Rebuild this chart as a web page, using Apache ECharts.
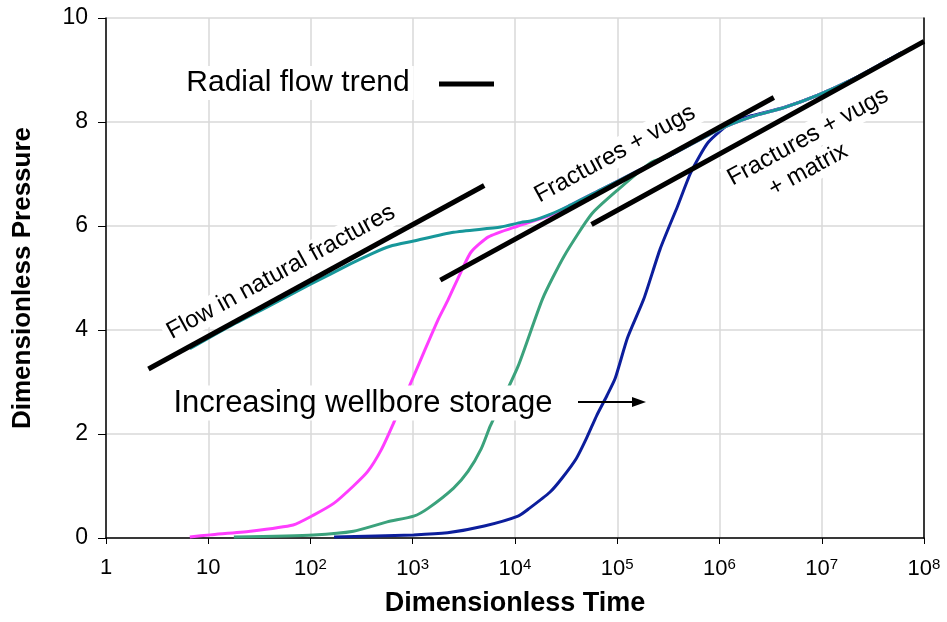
<!DOCTYPE html>
<html>
<head>
<meta charset="utf-8">
<script src="https://cdn.jsdelivr.net/npm/echarts@6/dist/echarts.min.js"></script>
<style>
html, body { margin: 0; padding: 0; background: #fff; }
#chart { width: 947px; height: 622px; }
</style>
</head>
<body>
<div id="chart"></div>
<script>
// dimensionless time / pressure
var tealTime = [6.6, 15.8, 40, 100, 251, 400, 600, 1020, 2510, 7240, 11500, 14500, 22400, 33100, 69200, 148000, 316000, 977000, 2040000, 4370000, 9300000, 19500000, 41700000, 60000000];
var tealPressure = [3.64, 4.06, 4.47, 4.88, 5.28, 5.47, 5.61, 5.71, 5.88, 5.98, 6.07, 6.10, 6.23, 6.38, 6.70, 7.03, 7.34, 7.85, 8.10, 8.28, 8.52, 8.81, 9.16, 9.33];

var magentaTime = [6.6, 10.5, 25.7, 67.6, 107, 170, 263, 363, 490, 646, 1020, 1290, 1780, 2190, 2950, 3720, 5500, 10700, 22400, 33100, 69200, 148000, 316000, 977000, 2040000, 4370000, 9300000, 19500000, 41700000, 60000000];
var magentaPressure = [0.02, 0.06, 0.13, 0.25, 0.44, 0.67, 1.00, 1.28, 1.69, 2.20, 3.11, 3.58, 4.21, 4.56, 5.11, 5.50, 5.79, 6.00, 6.21, 6.38, 6.70, 7.03, 7.34, 7.85, 8.10, 8.28, 8.52, 8.81, 9.16, 9.33];

var greenTime = [17.8, 107, 263, 562, 1020, 1410, 2510, 3470, 4680, 5750, 10700, 18600, 30200, 56200, 102000, 214000, 316000, 977000, 2040000, 4370000, 9300000, 19500000, 41700000, 60000000];
var greenPressure = [0.02, 0.06, 0.13, 0.31, 0.42, 0.57, 0.96, 1.28, 1.72, 2.16, 3.30, 4.60, 5.42, 6.23, 6.70, 7.22, 7.34, 7.85, 8.10, 8.28, 8.52, 8.81, 9.16, 9.33];

var blueTime = [170, 1020, 2190, 5010, 10700, 13800, 21900, 28800, 39800, 50100, 63100, 79400, 95500, 126000, 182000, 263000, 389000, 525000, 776000, 1320000, 2040000, 4270000, 9300000, 19500000, 41700000, 60000000];
var bluePressure = [0.02, 0.06, 0.10, 0.23, 0.42, 0.57, 0.88, 1.15, 1.53, 1.92, 2.36, 2.74, 3.07, 3.85, 4.60, 5.56, 6.38, 7.03, 7.61, 8.00, 8.12, 8.28, 8.52, 8.81, 9.16, 9.33];

// radial flow trend lines (end points)
var trendFracTime = [2.6, 5000];
var trendFracPressure = [3.25, 6.78];
var trendVugTime = [1860, 3400000];
var trendVugPressure = [4.96, 8.47];
var trendMatrixTime = [56000, 100000000];
var trendMatrixPressure = [6.03, 9.55];

var xTickLabels = ['1', '10', '10{s|2}', '10{s|3}', '10{s|4}', '10{s|5}', '10{s|6}', '10{s|7}', '10{s|8}'];

function zip(t, p) {
	var out = [];
	for (var i = 0; i < t.length; i++) {
		out.push([t[i], p[i]]);
	}
	return out;
}

var FONT = 'Liberation Sans, Arial, sans-serif';
var ANGLE = 0.5; // text along the trend lines

function curve(name, color, t, p) {
	return {
		name: name, type: 'line', showSymbol: false, symbol: 'none',
		smooth: 0.2,
		data: zip(t, p),
		lineStyle: { color: color, width: 3 },
		z: 3
	};
}
function trend(t, p) {
	return {
		type: 'line', showSymbol: false, symbol: 'none',
		data: zip(t, p),
		lineStyle: { color: '#000', width: 5 },
		z: 4
	};
}
function note(x, y, text, size, rot) {
	return {
		type: 'text', x: x, y: y, rotation: rot || 0, z: 10,
		style: {
			text: text, font: size + 'px ' + FONT, fill: '#000',
			align: 'center', verticalAlign: 'middle',
			backgroundColor: '#fff', padding: [2, 4]
		}
	};
}

var chart = echarts.init(document.getElementById('chart'));
var option = {
	animation: false,
	backgroundColor: '#fff',
	grid: { left: 106, right: 23, top: 18, bottom: 82 },
	xAxis: {
		type: 'log', logBase: 10, min: 1, max: 100000000,
		name: 'Dimensionless Time', nameLocation: 'middle', nameGap: 52,
		nameTextStyle: { fontFamily: FONT, fontSize: 27, fontWeight: 'bold', color: '#000' },
		axisLine: { lineStyle: { color: '#000', width: 1.5 } },
		axisTick: { show: true, length: 6, lineStyle: { color: '#000' } },
		minorTick: { show: false },
		axisLabel: {
			margin: 19, color: '#000', fontFamily: FONT, fontSize: 22,
			formatter: function (v) {
				var k = Math.round(Math.log(v) / Math.LN10);
				return xTickLabels[k];
			},
			rich: { s: { fontSize: 15, fontFamily: FONT, color: '#000', verticalAlign: 'top', padding: [0, 0, 9, 0] } }
		},
		splitLine: { show: true, lineStyle: { color: '#d9d9d9', width: 1.5 } }
	},
	yAxis: [{
		type: 'value', min: 0, max: 10, interval: 2,
		name: 'Dimensionless Pressure', nameLocation: 'middle', nameGap: 70,
		nameTextStyle: { fontFamily: FONT, fontSize: 26, fontWeight: 'bold', color: '#000' },
		axisLine: { show: true, lineStyle: { color: '#000', width: 1.5 } },
		axisTick: { show: true, length: 8, lineStyle: { color: '#000' } },
		axisLabel: { margin: 18, color: '#000', fontFamily: FONT, fontSize: 23 },
		splitLine: { show: true, lineStyle: { color: '#d9d9d9', width: 1.5 } }
	}, {
		type: 'value', min: 0, max: 10, position: 'right',
		axisLine: { show: true, lineStyle: { color: '#000', width: 1.5 } },
		axisTick: { show: false }, axisLabel: { show: false }, splitLine: { show: false }
	}],
	series: [
		curve('blue', '#0c1e9c', blueTime, bluePressure),
		curve('green', '#3ba27c', greenTime, greenPressure),
		curve('magenta', '#ff3dff', magentaTime, magentaPressure),
		curve('teal', '#17979a', tealTime, tealPressure),
		trend(trendFracTime, trendFracPressure),
		trend(trendVugTime, trendVugPressure),
		trend(trendMatrixTime, trendMatrixPressure)
	],
	graphic: [
		note(298, 83, 'Radial flow trend', 30),
		{ type: 'line', z: 10, shape: { x1: 439, y1: 84, x2: 494, y2: 84 }, style: { stroke: '#000', lineWidth: 5 } },
		note(281, 272, 'Flow in natural fractures', 24, ANGLE),
		note(615, 154, 'Fractures + vugs', 24, ANGLE),
		note(808, 137, 'Fractures + vugs', 24, ANGLE),
		note(808, 170, '+ matrix', 24, ANGLE),
		note(363, 403, 'Increasing wellbore storage', 31),
		{ type: 'line', z: 10, shape: { x1: 578, y1: 402, x2: 634, y2: 402 }, style: { stroke: '#000', lineWidth: 2 } },
		{ type: 'polygon', z: 10, shape: { points: [[646, 402], [632, 397], [632, 407]] }, style: { fill: '#000' } }
	]
};
chart.setOption(option);
</script>
</body>
</html>
